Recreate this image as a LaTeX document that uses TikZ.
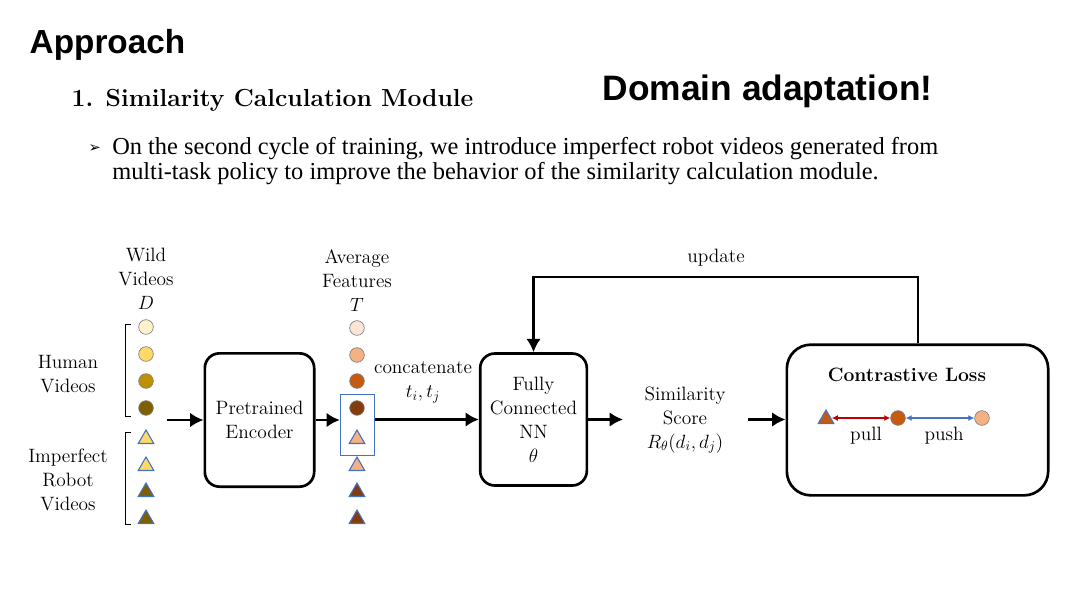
\documentclass[tikz,border=0pt]{standalone}
\usepackage{fontspec}
\usepackage{amsmath}
\usepackage{tikz}
\usetikzlibrary{arrows.meta,positioning,shapes.geometric}
\newfontfamily\headfont{Liberation Sans}
\newfontfamily\bodyfont{Liberation Serif}
\newfontfamily\symfont{DejaVu Sans}
\definecolor{HumLight}{HTML}{FFF2CC}
\definecolor{HumYellow}{HTML}{FFD966}
\definecolor{HumGold}{HTML}{BF9000}
\definecolor{HumBrown}{HTML}{7F6000}
\definecolor{FeatLight}{HTML}{FBE5D6}
\definecolor{FeatPeach}{HTML}{F4B183}
\definecolor{FeatOrange}{HTML}{C55A11}
\definecolor{FeatBrown}{HTML}{843C0C}
\definecolor{EdgeBlue}{HTML}{4472C4}
\definecolor{PullRed}{HTML}{C00000}
\newcommand{\dfont}{\fontsize{14.5}{18}\selectfont}
\tikzset{
  module/.style={draw, line width=2pt, rounded corners=11pt, align=center,
    font=\dfont},
  feat/.style={circle, draw=black!50, line width=0.5pt, minimum size=11pt,
    inner sep=0pt},
  robot/.style={regular polygon, regular polygon sides=3, draw=EdgeBlue,
    line width=0.8pt, minimum size=13.5pt, inner sep=0pt},
  wire/.style={-{Latex[length=10pt,width=11pt]}, line width=2pt},
  pairwire/.style={{Latex[length=4.5pt,width=4.5pt]}-{Latex[length=4.5pt,width=4.5pt]},
    line width=0.9pt},
  bracket/.style={draw, line width=0.6pt},
  caption/.style={align=center, font=\dfont}
}
\begin{document}
\begin{tikzpicture}[x=0.75pt, y=-0.75pt]
  \useasboundingbox (0,0) rectangle (1066,601);
  % titles
  \node[anchor=west, font=\headfont\bfseries\fontsize{25}{30}\selectfont] (title) at (25,45) {Approach};
  \node[anchor=west, font=\bfseries\fontsize{18.5}{20}\selectfont] (module) at (67,100) {1. Similarity Calculation Module};
  \node[anchor=west, font=\headfont\bfseries\fontsize{26.5}{30}\selectfont] (domain) at (598,91) {Domain adaptation!};
  \node[anchor=west, font=\symfont\fontsize{11}{12}\selectfont] (tick) at (84,149) {➢};
  \node[anchor=north west, align=left, inner sep=0pt,
    font=\bodyfont\fontsize{18.3}{18.75}\selectfont] (note) at (112,137)
    {On the second cycle of training, we introduce imperfect robot videos generated from\\
     multi-task policy to improve the behavior of the similarity calculation module.};

  % wild videos
  \node[caption] (wild) at (146,279) {Wild\\Videos\\$D$};
  \node[feat, fill=HumLight]  (h1) at (146,327) {};
  \node[feat, fill=HumYellow] (h2) at (146,354) {};
  \node[feat, fill=HumGold]   (h3) at (146,381) {};
  \node[feat, fill=HumBrown]  (h4) at (146,408) {};
  \node[robot, fill=HumYellow] (r1) at (146,439) {};
  \node[robot, fill=HumYellow] (r2) at (146,466) {};
  \node[robot, fill=HumBrown]  (r3) at (146,492) {};
  \node[robot, fill=HumBrown]  (r4) at (146,519) {};
  \draw[bracket] (131,324) -- (125,324) -- (125,416) -- (131,416);
  \draw[bracket] (131,432) -- (125,432) -- (125,524) -- (131,524);
  \node[caption] (human) at (68,374) {Human\\Videos};
  \node[caption] (imperfect) at (68,480) {Imperfect\\Robot\\Videos};

  % encoder
  \node[module, minimum width=82pt, minimum height=100pt] (enc) at (259.5,420) {Pretrained\\Encoder};
  \coordinate (src) at (167,420);
  \draw[wire] (src) -- (enc.west);

  % average features
  \node[caption] (avg) at (357,281) {Average\\Features\\$T$};
  \node[feat, fill=FeatLight]  (f1) at (357,328) {};
  \node[feat, fill=FeatPeach]  (f2) at (357,355) {};
  \node[feat, fill=FeatOrange] (f3) at (357,381) {};
  \node[feat, fill=FeatBrown]  (f4) at (357,408) {};
  \node[robot, fill=FeatPeach] (g1) at (357,439) {};
  \node[robot, fill=FeatPeach] (g2) at (357,466) {};
  \node[robot, fill=FeatBrown] (g3) at (357,492) {};
  \node[robot, fill=FeatBrown] (g4) at (357,519) {};
  \node[draw=EdgeBlue, line width=1pt, minimum width=25.5pt, minimum height=45.5pt, inner sep=0pt] (pair) at (357.5,425) {};
  \draw[wire] (enc.east) -- (enc.east -| pair.west);

  % fully connected network
  \node[module, minimum width=80pt, minimum height=99pt] (fc) at (533.5,419.5) {Fully\\Connected\\NN\\$\theta$};
  \draw[wire] (fc.west -| pair.east) -- (fc.west);
  \node[caption] (concat) at (423,382) {concatenate\\$t_i,t_j$};

  % similarity score
  \node[caption] (score) at (685,420) {Similarity\\Score\\$R_\theta(d_i,d_j)$};
  \coordinate (scoreIn) at (623,419.5);
  \coordinate (scoreOut) at (748,419.5);
  \draw[wire] (fc.east) -- (scoreIn);

  % contrastive loss
  \node[module, rounded corners=18pt, minimum width=196pt, minimum height=113pt] (loss) at (917.5,420) {};
  \draw[wire] (scoreOut) -- (scoreOut -| loss.west);
  \node[font=\dfont\bfseries] (losstitle) at (907,375) {Contrastive Loss};
  \node[robot, fill=FeatOrange] (anchor) at (826,419) {};
  \node[feat, fill=FeatOrange] (pos) at (898,418) {};
  \node[feat, fill=FeatPeach] (neg) at (982,418) {};
  \draw[pairwire, draw=PullRed, fill=PullRed] (anchor.east |- pos) -- (pos);
  \draw[pairwire, draw=EdgeBlue, fill=EdgeBlue] (pos) -- (neg);
  \node[font=\dfont] (pull) at (866,436) {pull};
  \node[font=\dfont] (push) at (944,436) {push};

  % update loop
  \coordinate (upR) at (918,277);
  \coordinate (upL) at (533.5,277);
  \draw[wire] (loss.north -| upR) -- (upR) -- (upL) -- (fc.north);
  \node[font=\dfont] (update) at (716,258) {update};
\end{tikzpicture}
\end{document}
